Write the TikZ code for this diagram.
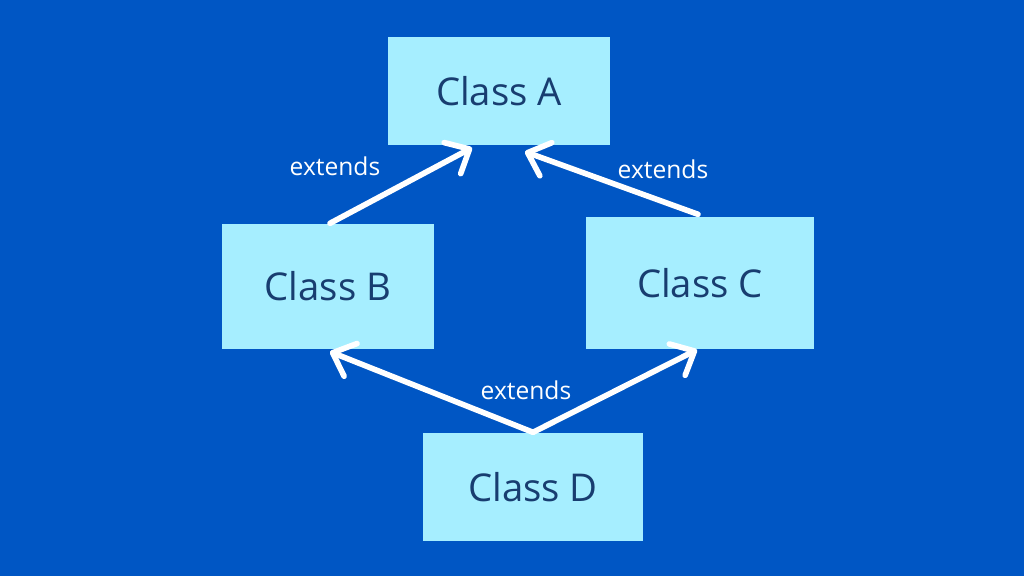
\documentclass[tikz,border=0pt]{standalone}
\usepackage{fontspec}
\setmainfont{Open Sans}
\usetikzlibrary{arrows.meta}
\definecolor{bgblue}{HTML}{0056C4}
\definecolor{boxcyan}{HTML}{A6EEFF}
\definecolor{inkblue}{HTML}{183D70}
\tikzset{
  classbox/.style={fill=boxcyan, inner sep=0pt, text=inkblue, font=\fontsize{10.9}{12}\selectfont},
  inherit/.style={white, line width=1.6pt, line cap=round, -{Straight Barb[length=5.5pt, width=10pt, line cap=round, line join=round]}},
  extlabel/.style={text=white, font=\fontsize{7}{8}\selectfont}
}
\begin{document}
\begin{tikzpicture}
	\fill[bgblue] (0,0) rectangle (10.24,5.76);
	\useasboundingbox (0,0) rectangle (10.24,5.76);
	\node[classbox, minimum width=2.22cm, minimum height=1.08cm] (A) at (4.99,4.85) {Class A};
	\node[classbox, minimum width=2.12cm, minimum height=1.25cm] (B) at (3.28,2.895) {Class B};
	\node[classbox, minimum width=2.28cm, minimum height=1.32cm] (C) at (7.00,2.93) {Class C};
	\node[classbox, minimum width=2.20cm, minimum height=1.08cm] (D) at (5.33,0.89) {Class D};
	\draw[inherit] ([xshift=0.02cm]B.north) -- ([xshift=-0.27cm, yshift=-0.02cm]A.south);
	\draw[inherit] ([xshift=-0.02cm, yshift=0.02cm]C.north) -- ([xshift=0.26cm, yshift=-0.06cm]A.south);
	\draw[inherit] (D.north) -- ([xshift=0.02cm, yshift=-0.02cm]B.south);
	\draw[inherit] (D.north) -- ([xshift=-0.03cm]C.south);
	\node[extlabel] (ab) at (3.35,4.10) {extends};
	\node[extlabel] (ac) at (6.63,4.07) {extends};
	\node[extlabel] (dd) at (5.26,1.86) {extends};
\end{tikzpicture}
\end{document}
